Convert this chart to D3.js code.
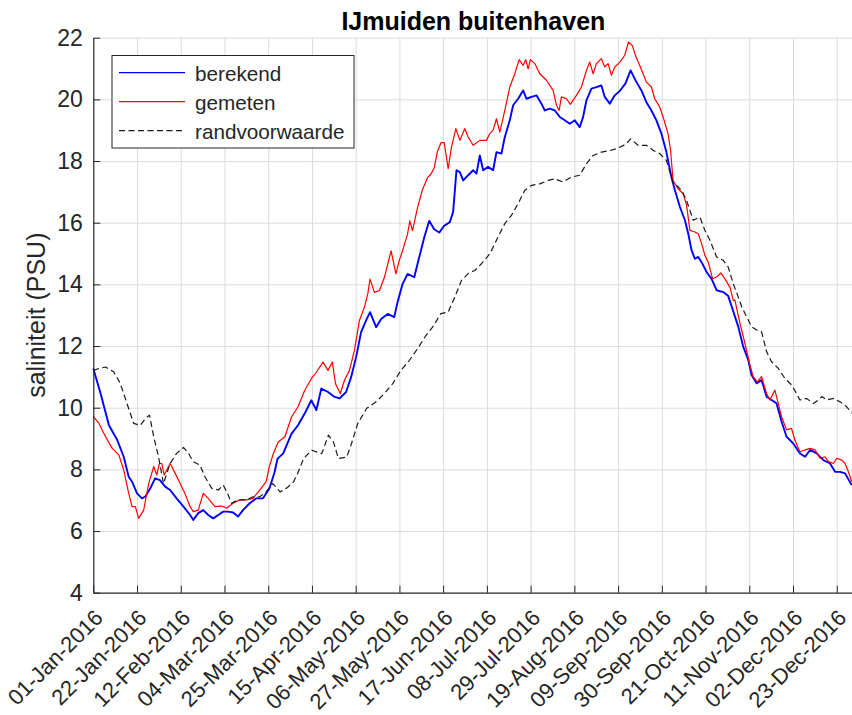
<!DOCTYPE html>
<html>
<head>
<meta charset="utf-8">
<script src="https://cdn.jsdelivr.net/npm/d3@7"></script>
<style>
body { margin: 0; background: #fff; }
svg text { font-family: "Liberation Sans", Arial, Helvetica, sans-serif; }
</style>
</head>
<body>
<div id="vis"></div>
<script>
// [day of year (0 = 01-Jan-2016), saliniteit in PSU]
var berekend = [
    [0,11.27],[3.5,10.46],[7.5,9.43],[11.5,8.95],[14.6,8.41],[17,7.76],[18.6,7.6],[21,7.22],
    [23.4,7.06],[25,7.12],[27.4,7.39],[29.7,7.71],[32,7.65],[34.5,7.44],[36.9,7.33],[40,7.06],
    [43.3,6.79],[46.5,6.52],[48,6.36],[50.4,6.58],[52.8,6.68],[55.2,6.52],[57.6,6.41],[60,6.52],
    [62.4,6.63],[64.8,6.63],[67.1,6.6],[69.5,6.47],[71.9,6.68],[75.1,6.9],[78.3,7.06],[81.5,7.06],
    [84.6,7.39],[87,7.9],[88.5,8.35],[91.2,8.52],[95.2,9.16],[98.3,9.43],[101.5,9.81],[104.7,10.24],
    [107.1,9.92],[109.5,10.62],[112.7,10.51],[115.9,10.35],[118.3,10.3],[121.4,10.51],[123.8,10.99],
    [126.2,11.64],[128.6,12.45],[131,12.83],[132.9,13.1],[135.8,12.61],[138.2,12.88],[141.4,13.04],
    [144.5,12.94],[146.1,13.42],[148.5,14.01],[150.9,14.34],[154.1,14.23],[156.5,14.88],[158.9,15.52],
    [161.3,16.06],[163.7,15.79],[166.1,15.68],[168.5,15.9],[171.2,16.02],[172.8,16.35],[174.4,17.7],
    [176,17.64],[177.6,17.37],[180,17.54],[182.4,17.7],[184,17.59],[185.6,18.18],[187.2,17.7],
    [189.6,17.81],[192,17.7],[193.6,18.29],[196,18.24],[197.6,18.78],[200,19.32],[201.6,19.81],
    [204,20.02],[206.4,20.29],[208,20.02],[210.4,20.08],[212.8,20.13],[215.2,19.86],[216.8,19.64],
    [219.2,19.7],[221.6,19.64],[224,19.43],[226.4,19.32],[228.8,19.21],[231.2,19.32],[233.6,19.1],
    [235.2,19.43],[236.8,19.97],[239.2,20.35],[241.6,20.4],[244,20.45],[245.6,20.08],[248,19.86],
    [250.4,20.13],[252.8,20.27],[255.5,20.51],[258,20.94],[260.5,20.6],[263.2,20.29],[265.6,19.91],
    [268,19.64],[270.4,19.32],[272.8,18.89],[275.2,18.29],[277.6,17.48],[279.3,17.05],[281.7,16.51],
    [284.1,16.08],[285.7,15.64],[287.3,15.1],[288.9,14.83],[290.5,14.89],[292.1,14.72],[294.5,14.4],
    [296.9,14.18],[299.3,13.81],[302.5,13.75],[304.9,13.62],[307.3,13.13],[309.7,12.63],[312.1,11.98],
    [314.5,11.55],[316.1,11.06],[318.5,10.79],[320.9,10.9],[323.3,10.36],[325.7,10.25],[328.1,10.14],
    [330.5,9.55],[332.9,9.06],[336.1,8.84],[339.3,8.52],[341.8,8.41],[344.2,8.63],[347.4,8.52],
    [350.6,8.3],[353.8,8.19],[356.2,7.92],[358.6,7.92],[361,7.87],[364.2,7.49]
];

var gemeten = [
    [0,9.72],[2.7,9.49],[5.9,9.06],[9.1,8.68],[12.3,8.46],[14.6,7.98],[17,7.22],[18.6,6.79],
    [20.2,6.79],[21.8,6.41],[24.2,6.68],[26.6,7.54],[29,8.09],[30.5,7.82],[31.7,8.19],[32.9,8.19],
    [34,7.82],[36.9,8.19],[39.3,7.87],[41.7,7.54],[44,7.22],[46.5,6.79],[48,6.63],[50.4,6.68],
    [52.8,7.22],[55.2,7.06],[58.4,6.79],[61.6,6.81],[64,6.74],[67.1,6.9],[70.3,7.01],[73.5,7.01],
    [76.7,7.06],[79.9,7.33],[83,7.6],[84.5,8.08],[86.4,8.5],[88.8,8.89],[92,9.06],[95.2,9.7],
    [98.3,10.03],[101.5,10.56],[104.7,10.94],[107.1,11.15],[110.3,11.48],[112.7,11.21],[114.8,11.48],
    [116.3,10.78],[118.6,10.46],[120.6,10.89],[123,11.21],[125.4,11.86],[127.8,12.83],[130.2,13.26],
    [131.8,13.69],[132.9,14.17],[135,13.74],[137.4,13.8],[139.8,14.23],[143,15.09],[145.3,14.34],
    [146.9,14.77],[148.5,15.09],[150.9,15.63],[152,16.06],[153.3,15.74],[155.7,16.49],[158.1,17.08],
    [160.5,17.46],[162.1,17.57],[163.7,17.78],[165.3,18.32],[167,18.6],[168.5,18.6],[170.4,17.75],
    [172,18.45],[174.1,19.05],[176,18.67],[178.4,19.05],[180,18.78],[182.4,18.51],[185.6,18.67],
    [188.8,18.67],[190.4,18.89],[192,19],[193.6,19.37],[195.2,18.94],[197.6,19.64],[200,20.4],
    [202.4,20.83],[204.5,21.29],[206.4,21.1],[207.7,21.29],[208.8,20.99],[209.9,21.29],[212,21.16],
    [214.4,20.83],[217.6,20.62],[220.8,20.29],[222.4,19.81],[223.7,19.64],[224.8,20.08],[227.2,20.02],
    [229.1,19.84],[232,20.13],[234.4,20.4],[236.8,20.94],[238.4,21.21],[240,20.83],[241.6,21.16],
    [244,21.32],[245.6,21.05],[247.2,21.16],[248.8,20.78],[250.4,21.05],[252.8,21.2],[255.2,21.43],
    [257,21.86],[258.8,21.75],[260.5,21.4],[262.4,21.1],[264,20.83],[265.6,20.56],[268,20.4],
    [269.6,20.02],[272,19.75],[273.6,19.43],[276,18.89],[277.2,18.35],[278.4,17.37],[280.8,17.1],
    [283.3,16.94],[284.9,16.56],[286.5,15.75],[288.9,15.7],[290.5,15.64],[292.1,15.32],[293.7,14.94],
    [295.3,14.72],[297.4,14.18],[299.3,14.24],[301.4,14.37],[303.3,14.18],[305.7,13.91],[307.3,13.48],
    [308.1,13.49],[310.5,12.74],[312.9,12.09],[315.3,11.38],[316.9,11.01],[318.8,10.84],[320.9,11.01],
    [323.3,10.46],[324.9,10.25],[327.3,10.57],[328.9,10.14],[330.5,9.71],[332.9,9.28],[335.3,9.33],
    [336.9,8.95],[339.3,8.57],[341.8,8.63],[344.2,8.68],[346.6,8.63],[349,8.36],[351.4,8.41],
    [353,8.25],[355.4,8.19],[357,8.36],[359.4,8.3],[361,8.19],[362.6,7.92],[364.2,7.6]
];

var randvoorwaarde = [
    [0,11.21],[2.7,11.27],[5.9,11.32],[9.9,11.16],[13,10.78],[16.2,10.13],[19.4,9.49],[22.6,9.43],
    [25,9.65],[27,9.76],[29,9.06],[31.3,8.41],[33.7,7.54],[36.9,8.19],[40,8.52],[43.3,8.71],
    [45.7,8.52],[48,8.25],[51.2,8.14],[53.6,7.76],[56.8,7.39],[60,7.33],[62.4,7.49],[64.8,7.17],
    [66.3,6.9],[69.5,7.01],[73.5,7.01],[76.7,7.11],[79.9,7.11],[83,7.27],[86.2,7.54],[89.7,7.27],
    [93,7.4],[96.2,7.6],[98,7.85],[101,8.35],[104.9,8.62],[109.7,8.51],[112.9,9.11],[115.3,8.89],
    [117.7,8.35],[121.7,8.4],[124,8.84],[127,9.49],[131.3,9.98],[135.8,10.19],[139.8,10.46],
    [143.8,10.78],[147.7,11.21],[151.7,11.53],[155.7,11.91],[159.7,12.34],[162.9,12.61],[166.9,13.05],
    [170.4,13.1],[173.6,13.59],[176.8,14.13],[180,14.35],[183.2,14.45],[186.4,14.67],[190.4,14.99],
    [194.4,15.54],[197.6,15.97],[200.8,16.24],[204,16.62],[207.2,17.05],[210.4,17.21],[214.4,17.26],
    [218.4,17.37],[221.6,17.42],[225.6,17.32],[229.6,17.48],[233.6,17.54],[236.8,17.91],[240,18.18],
    [244,18.29],[248,18.34],[251.2,18.4],[254.4,18.5],[256,18.56],[258,18.72],[261.6,18.51],
    [265.6,18.51],[268.8,18.35],[272,18.24],[275.2,18.02],[278.4,17.32],[282.5,17.05],[284.9,16.72],
    [288.1,16.08],[291.3,16.18],[293.7,15.75],[296.1,15.43],[299.3,14.89],[302.5,14.78],[304.9,14.56],
    [307.3,14.02],[309.7,13.59],[311.3,13.28],[313.7,12.95],[316.1,12.63],[318.5,12.52],[320.9,12.46],
    [323.3,11.82],[325.7,11.49],[328.9,11.28],[332.1,10.95],[335.3,10.74],[337.7,10.46],[339.3,10.25],
    [342.5,10.3],[345.8,10.14],[348.2,10.25],[349.8,10.36],[352.2,10.25],[355.4,10.3],[358.6,10.19],
    [361.8,10.03],[364.2,9.82]
];

var yTicks = [4, 6, 8, 10, 12, 14, 16, 18, 20, 22];
var xTickLabels = ['01-Jan-2016', '22-Jan-2016', '12-Feb-2016', '04-Mar-2016', '25-Mar-2016',
    '15-Apr-2016', '06-May-2016', '27-May-2016', '17-Jun-2016', '08-Jul-2016', '29-Jul-2016',
    '19-Aug-2016', '09-Sep-2016', '30-Sep-2016', '21-Oct-2016', '11-Nov-2016', '02-Dec-2016',
    '23-Dec-2016'];
var legendNames = ['berekend', 'gemeten', 'randvoorwaarde'];
var lineColors = ['#0000ff', '#ff0000', '#1a1a1a'];
var lineWidths = [1.9, 1.2, 1.2];
var lineDash = [null, null, '6,3.5'];

//setup drawing area
var svgW = 852;
var svgH = 715;
var axL = 93.3, axR = 853.4, axT = 37.7, axB = 592.7;
var ink = '#262626';
var font = '"Liberation Sans", Arial, Helvetica, sans-serif';

var svg = d3.select('#vis').append('svg').attr('width', svgW).attr('height', svgH);
var g = svg.append('g');

var start = Date.UTC(2016, 0, 1);
function toDate(day){ return new Date(start + day * 864e5); }

var parseTick = d3.utcParse('%d-%b-%Y');
var xTicks = xTickLabels.map(function(s){ return parseTick(s); });

var x = d3.scaleUtc().domain([toDate(0), toDate(365)]).range([axL, axR]);
var y = d3.scaleLinear().domain([4, 22]).range([axB, axT]);

//grid
g.append('g').attr('transform', 'translate(0,' + axB + ')')
    .call(d3.axisBottom(x).tickValues(xTicks.slice(1)).tickSize(-(axB - axT)).tickFormat(''))
    .call(function(s){ s.select('.domain').remove(); })
    .selectAll('line').attr('stroke', '#dcdcdc').attr('stroke-width', 1);

g.append('g').attr('transform', 'translate(' + axL + ',0)')
    .call(d3.axisLeft(y).tickValues(yTicks.slice(1)).tickSize(-(svgW - axL)).tickFormat(''))
    .call(function(s){ s.select('.domain').remove(); })
    .selectAll('line').attr('stroke', '#dcdcdc').attr('stroke-width', 1);

//series
var series = [berekend, gemeten, randvoorwaarde];
var line = d3.line()
    .x(function(d){ return x(toDate(d[0])); })
    .y(function(d){ return y(d[1]); });

g.selectAll('.serie').data(series).enter().append('path')
    .attr('class', 'serie')
    .attr('d', line)
    .attr('fill', 'none')
    .attr('stroke', function(d, i){ return lineColors[i]; })
    .attr('stroke-width', function(d, i){ return lineWidths[i]; })
    .attr('stroke-dasharray', function(d, i){ return lineDash[i]; })
    .attr('stroke-linejoin', 'round');

//x axis, ticks point inwards, labels at 45 degrees
var xAxis = g.append('g').attr('transform', 'translate(0,' + axB + ')')
    .call(d3.axisBottom(x).tickValues(xTicks).tickSize(-7).tickSizeOuter(0)
        .tickFormat(function(d, i){ return xTickLabels[i]; }))
    .attr('color', ink).attr('font-size', 22).attr('font-family', font);
xAxis.select('.domain').attr('stroke-width', 1.2);
xAxis.selectAll('text')
    .attr('x', 5).attr('y', 21).attr('dy', '0.35em')
    .attr('text-anchor', 'end')
    .attr('transform', 'rotate(-45,5,21)');

//y axis
var yAxis = g.append('g').attr('transform', 'translate(' + axL + ',0)')
    .call(d3.axisLeft(y).tickValues(yTicks).tickSize(-7).tickSizeOuter(0).tickPadding(10.5))
    .attr('color', ink).attr('font-size', 23).attr('font-family', font);
yAxis.select('.domain').attr('stroke-width', 1.2);

//labels
g.append('text').text('saliniteit (PSU)')
    .attr('transform', 'translate(45,' + ((axT + axB) / 2) + ') rotate(-90)')
    .attr('text-anchor', 'middle').attr('font-size', 25).attr('fill', ink);

g.append('text').text('IJmuiden buitenhaven')
    .attr('x', (axL + axR) / 2).attr('y', 29.5)
    .attr('text-anchor', 'middle').attr('font-size', 25).attr('font-weight', 'bold').attr('fill', '#000');

//legend
var leg = g.append('g');
leg.append('rect').attr('x', 112).attr('y', 55.5).attr('width', 242).attr('height', 92.5)
    .attr('fill', '#fff').attr('stroke', ink).attr('stroke-width', 1);
var rows = leg.selectAll('.row').data(legendNames).enter().append('g')
    .attr('class', 'row')
    .attr('transform', function(d, i){ return 'translate(0,' + (72.7 + i * 29) + ')'; });
rows.append('line').attr('x1', 119).attr('x2', 185).attr('y1', 0).attr('y2', 0)
    .attr('stroke', function(d, i){ return lineColors[i]; })
    .attr('stroke-width', function(d, i){ return i == 0 ? 1.3 : lineWidths[i]; })
    .attr('stroke-dasharray', function(d, i){ return lineDash[i]; });
rows.append('text').text(String)
    .attr('x', 195).attr('y', 1).attr('dy', '0.35em')
    .attr('font-size', 20.7).attr('fill', ink);
</script>
</body>
</html>
